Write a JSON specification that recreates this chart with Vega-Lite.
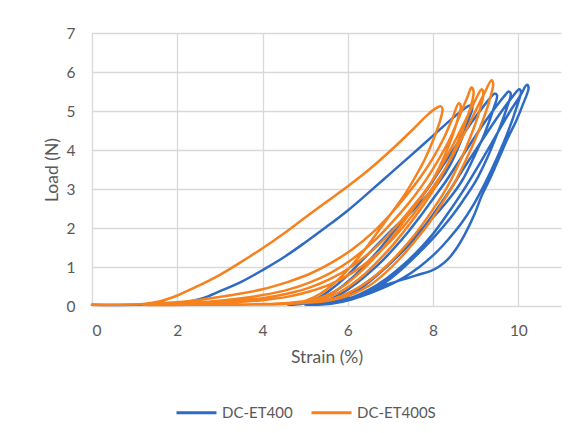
{
  "$schema": "https://vega.github.io/schema/vega-lite/v6.json",
  "autosize": {"type": "none"},
  "width": 469,
  "height": 273,
  "padding": {"left": 92, "top": 33, "right": 19, "bottom": 127},
  "background": "white",
  "config": {
    "font": "Lato",
    "view": {"stroke": null},
    "axis": {
      "labelColor": "#595959",
      "labelFontSize": 15.5,
      "titleColor": "#595959",
      "titleFontWeight": "normal",
      "titleFontSize": 17.5,
      "gridColor": "#D9D9D9",
      "gridWidth": 1.3,
      "ticks": false,
      "domain": false
    }
  },
  "data": {"values": [
    {"s":"DC-ET400","i":1,"x":0,"y":0.03},{"s":"DC-ET400","i":2,"x":1,"y":0.03},{"s":"DC-ET400","i":3,"x":1.8,"y":0.05},{"s":"DC-ET400","i":4,"x":2.2,"y":0.1},{"s":"DC-ET400","i":5,"x":2.6,"y":0.2},{"s":"DC-ET400","i":6,"x":3,"y":0.38},{"s":"DC-ET400","i":7,"x":3.5,"y":0.62},{"s":"DC-ET400","i":8,"x":4,"y":0.92},{"s":"DC-ET400","i":9,"x":4.5,"y":1.25},{"s":"DC-ET400","i":10,"x":5,"y":1.63},{"s":"DC-ET400","i":11,"x":5.5,"y":2.03},{"s":"DC-ET400","i":12,"x":6,"y":2.45},{"s":"DC-ET400","i":13,"x":6.5,"y":2.92},{"s":"DC-ET400","i":14,"x":7,"y":3.4},{"s":"DC-ET400","i":15,"x":7.5,"y":3.88},{"s":"DC-ET400","i":16,"x":8,"y":4.37},{"s":"DC-ET400","i":17,"x":8.4,"y":4.76},{"s":"DC-ET400","i":18,"x":8.7,"y":5.03},{"s":"DC-ET400","i":19,"x":8.86,"y":5.14},
    {"s":"DC-ET400","i":20,"x":8.92,"y":5.1},{"s":"DC-ET400","i":21,"x":8.84,"y":4.8},{"s":"DC-ET400","i":22,"x":8.64,"y":4.2},{"s":"DC-ET400","i":23,"x":8.4,"y":3.62},{"s":"DC-ET400","i":24,"x":8.12,"y":3.15},{"s":"DC-ET400","i":25,"x":7.85,"y":2.82},{"s":"DC-ET400","i":26,"x":7.5,"y":2.42},{"s":"DC-ET400","i":27,"x":7.1,"y":2.02},{"s":"DC-ET400","i":28,"x":6.7,"y":1.58},{"s":"DC-ET400","i":29,"x":6.3,"y":1.13},{"s":"DC-ET400","i":30,"x":5.95,"y":0.74},{"s":"DC-ET400","i":31,"x":5.6,"y":0.42},{"s":"DC-ET400","i":32,"x":5.3,"y":0.2},{"s":"DC-ET400","i":33,"x":5.0,"y":0.08},{"s":"DC-ET400","i":34,"x":4.6,"y":0.03},
    {"s":"DC-ET400","i":35,"x":4.9,"y":0.05},{"s":"DC-ET400","i":36,"x":5.2,"y":0.12},{"s":"DC-ET400","i":37,"x":5.5,"y":0.25},{"s":"DC-ET400","i":38,"x":5.8,"y":0.45},{"s":"DC-ET400","i":39,"x":6.1,"y":0.72},{"s":"DC-ET400","i":40,"x":6.4,"y":1.05},{"s":"DC-ET400","i":41,"x":6.7,"y":1.4},{"s":"DC-ET400","i":42,"x":7.0,"y":1.8},{"s":"DC-ET400","i":43,"x":7.3,"y":2.2},{"s":"DC-ET400","i":44,"x":7.6,"y":2.6},{"s":"DC-ET400","i":45,"x":7.9,"y":3.05},{"s":"DC-ET400","i":46,"x":8.2,"y":3.55},{"s":"DC-ET400","i":47,"x":8.5,"y":4.05},{"s":"DC-ET400","i":48,"x":8.8,"y":4.55},{"s":"DC-ET400","i":49,"x":9.1,"y":5.0},{"s":"DC-ET400","i":50,"x":9.35,"y":5.35},{"s":"DC-ET400","i":51,"x":9.45,"y":5.45},
    {"s":"DC-ET400","i":52,"x":9.5,"y":5.4},{"s":"DC-ET400","i":53,"x":9.4,"y":5.0},{"s":"DC-ET400","i":54,"x":9.2,"y":4.4},{"s":"DC-ET400","i":55,"x":8.95,"y":3.8},{"s":"DC-ET400","i":56,"x":8.7,"y":3.25},{"s":"DC-ET400","i":57,"x":8.45,"y":2.85},{"s":"DC-ET400","i":58,"x":8.15,"y":2.45},{"s":"DC-ET400","i":59,"x":7.8,"y":2.05},{"s":"DC-ET400","i":60,"x":7.45,"y":1.65},{"s":"DC-ET400","i":61,"x":7.1,"y":1.2},{"s":"DC-ET400","i":62,"x":6.7,"y":0.8},{"s":"DC-ET400","i":63,"x":6.3,"y":0.45},{"s":"DC-ET400","i":64,"x":5.9,"y":0.2},{"s":"DC-ET400","i":65,"x":5.5,"y":0.07},{"s":"DC-ET400","i":66,"x":5.0,"y":0.03},
    {"s":"DC-ET400","i":67,"x":5.3,"y":0.08},{"s":"DC-ET400","i":68,"x":5.6,"y":0.18},{"s":"DC-ET400","i":69,"x":5.9,"y":0.35},{"s":"DC-ET400","i":70,"x":6.2,"y":0.58},{"s":"DC-ET400","i":71,"x":6.5,"y":0.85},{"s":"DC-ET400","i":72,"x":6.8,"y":1.15},{"s":"DC-ET400","i":73,"x":7.1,"y":1.5},{"s":"DC-ET400","i":74,"x":7.4,"y":1.88},{"s":"DC-ET400","i":75,"x":7.7,"y":2.3},{"s":"DC-ET400","i":76,"x":8.0,"y":2.75},{"s":"DC-ET400","i":77,"x":8.3,"y":3.2},{"s":"DC-ET400","i":78,"x":8.6,"y":3.7},{"s":"DC-ET400","i":79,"x":8.9,"y":4.2},{"s":"DC-ET400","i":80,"x":9.2,"y":4.7},{"s":"DC-ET400","i":81,"x":9.5,"y":5.15},{"s":"DC-ET400","i":82,"x":9.7,"y":5.42},{"s":"DC-ET400","i":83,"x":9.77,"y":5.5},
    {"s":"DC-ET400","i":84,"x":9.82,"y":5.45},{"s":"DC-ET400","i":85,"x":9.72,"y":5.05},{"s":"DC-ET400","i":86,"x":9.5,"y":4.4},{"s":"DC-ET400","i":87,"x":9.25,"y":3.75},{"s":"DC-ET400","i":88,"x":9.0,"y":3.2},{"s":"DC-ET400","i":89,"x":8.7,"y":2.7},{"s":"DC-ET400","i":90,"x":8.4,"y":2.25},{"s":"DC-ET400","i":91,"x":8.05,"y":1.8},{"s":"DC-ET400","i":92,"x":7.7,"y":1.4},{"s":"DC-ET400","i":93,"x":7.3,"y":0.98},{"s":"DC-ET400","i":94,"x":6.9,"y":0.62},{"s":"DC-ET400","i":95,"x":6.5,"y":0.35},{"s":"DC-ET400","i":96,"x":6.1,"y":0.17},{"s":"DC-ET400","i":97,"x":5.6,"y":0.06},{"s":"DC-ET400","i":98,"x":5.1,"y":0.03},
    {"s":"DC-ET400","i":99,"x":5.5,"y":0.1},{"s":"DC-ET400","i":100,"x":5.9,"y":0.25},{"s":"DC-ET400","i":101,"x":6.3,"y":0.5},{"s":"DC-ET400","i":102,"x":6.7,"y":0.82},{"s":"DC-ET400","i":103,"x":7.1,"y":1.2},{"s":"DC-ET400","i":104,"x":7.5,"y":1.65},{"s":"DC-ET400","i":105,"x":7.8,"y":2.05},{"s":"DC-ET400","i":106,"x":8.1,"y":2.5},{"s":"DC-ET400","i":107,"x":8.4,"y":2.98},{"s":"DC-ET400","i":108,"x":8.7,"y":3.5},{"s":"DC-ET400","i":109,"x":9.0,"y":4.0},{"s":"DC-ET400","i":110,"x":9.3,"y":4.5},{"s":"DC-ET400","i":111,"x":9.6,"y":4.98},{"s":"DC-ET400","i":112,"x":9.85,"y":5.35},{"s":"DC-ET400","i":113,"x":10.02,"y":5.56},
    {"s":"DC-ET400","i":114,"x":10.06,"y":5.5},{"s":"DC-ET400","i":115,"x":9.96,"y":5.1},{"s":"DC-ET400","i":116,"x":9.75,"y":4.45},{"s":"DC-ET400","i":117,"x":9.5,"y":3.8},{"s":"DC-ET400","i":118,"x":9.22,"y":3.15},{"s":"DC-ET400","i":119,"x":8.95,"y":2.6},{"s":"DC-ET400","i":120,"x":8.65,"y":2.1},{"s":"DC-ET400","i":121,"x":8.35,"y":1.7},{"s":"DC-ET400","i":122,"x":8.05,"y":1.35},{"s":"DC-ET400","i":123,"x":7.7,"y":1.02},{"s":"DC-ET400","i":124,"x":7.3,"y":0.72},{"s":"DC-ET400","i":125,"x":6.8,"y":0.45},{"s":"DC-ET400","i":126,"x":6.3,"y":0.24},{"s":"DC-ET400","i":127,"x":5.8,"y":0.1},{"s":"DC-ET400","i":128,"x":5.3,"y":0.03},
    {"s":"DC-ET400","i":129,"x":5.7,"y":0.1},{"s":"DC-ET400","i":130,"x":6.1,"y":0.22},{"s":"DC-ET400","i":131,"x":6.5,"y":0.42},{"s":"DC-ET400","i":132,"x":6.9,"y":0.7},{"s":"DC-ET400","i":133,"x":7.3,"y":1.05},{"s":"DC-ET400","i":134,"x":7.7,"y":1.48},{"s":"DC-ET400","i":135,"x":8.0,"y":1.85},{"s":"DC-ET400","i":136,"x":8.3,"y":2.3},{"s":"DC-ET400","i":137,"x":8.6,"y":2.78},{"s":"DC-ET400","i":138,"x":8.9,"y":3.3},{"s":"DC-ET400","i":139,"x":9.2,"y":3.85},{"s":"DC-ET400","i":140,"x":9.5,"y":4.42},{"s":"DC-ET400","i":141,"x":9.8,"y":4.98},{"s":"DC-ET400","i":142,"x":10.05,"y":5.4},{"s":"DC-ET400","i":143,"x":10.2,"y":5.67},
    {"s":"DC-ET400","i":144,"x":10.24,"y":5.6},{"s":"DC-ET400","i":145,"x":10.1,"y":5.15},{"s":"DC-ET400","i":146,"x":9.95,"y":4.75},{"s":"DC-ET400","i":147,"x":9.75,"y":4.3},{"s":"DC-ET400","i":148,"x":9.55,"y":3.8},{"s":"DC-ET400","i":149,"x":9.35,"y":3.3},{"s":"DC-ET400","i":150,"x":9.15,"y":2.85},{"s":"DC-ET400","i":151,"x":8.95,"y":2.3},{"s":"DC-ET400","i":152,"x":8.75,"y":1.85},{"s":"DC-ET400","i":153,"x":8.55,"y":1.48},{"s":"DC-ET400","i":154,"x":8.35,"y":1.2},{"s":"DC-ET400","i":155,"x":8.15,"y":1.02},{"s":"DC-ET400","i":156,"x":7.95,"y":0.9},{"s":"DC-ET400","i":157,"x":7.65,"y":0.8},{"s":"DC-ET400","i":158,"x":7.35,"y":0.7},{"s":"DC-ET400","i":159,"x":7.0,"y":0.58},{"s":"DC-ET400","i":160,"x":6.7,"y":0.47},{"s":"DC-ET400","i":161,"x":6.4,"y":0.34},{"s":"DC-ET400","i":162,"x":6.1,"y":0.22},{"s":"DC-ET400","i":163,"x":5.7,"y":0.1},{"s":"DC-ET400","i":164,"x":5.3,"y":0.03},

    {"s":"DC-ET400S","i":1,"x":0,"y":0.03},{"s":"DC-ET400S","i":2,"x":0.6,"y":0.03},{"s":"DC-ET400S","i":3,"x":1.2,"y":0.05},{"s":"DC-ET400S","i":4,"x":1.6,"y":0.12},{"s":"DC-ET400S","i":5,"x":2,"y":0.27},{"s":"DC-ET400S","i":6,"x":2.5,"y":0.52},{"s":"DC-ET400S","i":7,"x":3,"y":0.8},{"s":"DC-ET400S","i":8,"x":3.5,"y":1.13},{"s":"DC-ET400S","i":9,"x":4,"y":1.48},{"s":"DC-ET400S","i":10,"x":4.5,"y":1.86},{"s":"DC-ET400S","i":11,"x":5,"y":2.27},{"s":"DC-ET400S","i":12,"x":5.5,"y":2.67},{"s":"DC-ET400S","i":13,"x":6,"y":3.07},{"s":"DC-ET400S","i":14,"x":6.5,"y":3.5},{"s":"DC-ET400S","i":15,"x":7,"y":3.98},{"s":"DC-ET400S","i":16,"x":7.5,"y":4.5},{"s":"DC-ET400S","i":17,"x":7.85,"y":4.88},{"s":"DC-ET400S","i":18,"x":8.05,"y":5.06},{"s":"DC-ET400S","i":19,"x":8.18,"y":5.12},
    {"s":"DC-ET400S","i":20,"x":8.22,"y":5.05},{"s":"DC-ET400S","i":21,"x":8.15,"y":4.7},{"s":"DC-ET400S","i":22,"x":8.0,"y":4.25},{"s":"DC-ET400S","i":23,"x":7.8,"y":3.75},{"s":"DC-ET400S","i":24,"x":7.55,"y":3.25},{"s":"DC-ET400S","i":25,"x":7.3,"y":2.8},{"s":"DC-ET400S","i":26,"x":7.0,"y":2.35},{"s":"DC-ET400S","i":27,"x":6.7,"y":1.9},{"s":"DC-ET400S","i":28,"x":6.4,"y":1.45},{"s":"DC-ET400S","i":29,"x":6.1,"y":1.05},{"s":"DC-ET400S","i":30,"x":5.8,"y":0.7},{"s":"DC-ET400S","i":31,"x":5.5,"y":0.42},{"s":"DC-ET400S","i":32,"x":5.2,"y":0.22},{"s":"DC-ET400S","i":33,"x":4.9,"y":0.1},{"s":"DC-ET400S","i":34,"x":4.5,"y":0.05},{"s":"DC-ET400S","i":35,"x":3.5,"y":0.035},{"s":"DC-ET400S","i":36,"x":2.3,"y":0.03},{"s":"DC-ET400S","i":37,"x":1.2,"y":0.03},
    {"s":"DC-ET400S","i":38,"x":2.3,"y":0.13},{"s":"DC-ET400S","i":39,"x":3.1,"y":0.25},{"s":"DC-ET400S","i":40,"x":4.0,"y":0.43},{"s":"DC-ET400S","i":41,"x":4.6,"y":0.62},{"s":"DC-ET400S","i":42,"x":5.1,"y":0.82},{"s":"DC-ET400S","i":43,"x":5.6,"y":1.1},{"s":"DC-ET400S","i":44,"x":6.1,"y":1.45},{"s":"DC-ET400S","i":45,"x":6.6,"y":1.9},{"s":"DC-ET400S","i":46,"x":7.0,"y":2.35},{"s":"DC-ET400S","i":47,"x":7.35,"y":2.8},{"s":"DC-ET400S","i":48,"x":7.7,"y":3.3},{"s":"DC-ET400S","i":49,"x":8.0,"y":3.8},{"s":"DC-ET400S","i":50,"x":8.25,"y":4.3},{"s":"DC-ET400S","i":51,"x":8.45,"y":4.8},{"s":"DC-ET400S","i":52,"x":8.6,"y":5.2},
    {"s":"DC-ET400S","i":53,"x":8.65,"y":5.12},{"s":"DC-ET400S","i":54,"x":8.58,"y":4.8},{"s":"DC-ET400S","i":55,"x":8.45,"y":4.35},{"s":"DC-ET400S","i":56,"x":8.27,"y":3.85},{"s":"DC-ET400S","i":57,"x":8.05,"y":3.35},{"s":"DC-ET400S","i":58,"x":7.8,"y":2.9},{"s":"DC-ET400S","i":59,"x":7.5,"y":2.45},{"s":"DC-ET400S","i":60,"x":7.2,"y":2.0},{"s":"DC-ET400S","i":61,"x":6.9,"y":1.58},{"s":"DC-ET400S","i":62,"x":6.55,"y":1.15},{"s":"DC-ET400S","i":63,"x":6.2,"y":0.78},{"s":"DC-ET400S","i":64,"x":5.85,"y":0.48},{"s":"DC-ET400S","i":65,"x":5.5,"y":0.27},{"s":"DC-ET400S","i":66,"x":5.1,"y":0.14},{"s":"DC-ET400S","i":67,"x":4.6,"y":0.08},{"s":"DC-ET400S","i":68,"x":4.0,"y":0.05},{"s":"DC-ET400S","i":69,"x":3.0,"y":0.035},{"s":"DC-ET400S","i":70,"x":2.0,"y":0.03},{"s":"DC-ET400S","i":71,"x":1.2,"y":0.03},
    {"s":"DC-ET400S","i":72,"x":2.3,"y":0.08},{"s":"DC-ET400S","i":73,"x":3.1,"y":0.15},{"s":"DC-ET400S","i":74,"x":4.0,"y":0.28},{"s":"DC-ET400S","i":75,"x":4.6,"y":0.42},{"s":"DC-ET400S","i":76,"x":5.1,"y":0.6},{"s":"DC-ET400S","i":77,"x":5.6,"y":0.85},{"s":"DC-ET400S","i":78,"x":6.1,"y":1.2},{"s":"DC-ET400S","i":79,"x":6.6,"y":1.65},{"s":"DC-ET400S","i":80,"x":7.0,"y":2.1},{"s":"DC-ET400S","i":81,"x":7.4,"y":2.6},{"s":"DC-ET400S","i":82,"x":7.75,"y":3.1},{"s":"DC-ET400S","i":83,"x":8.1,"y":3.7},{"s":"DC-ET400S","i":84,"x":8.4,"y":4.3},{"s":"DC-ET400S","i":85,"x":8.65,"y":4.95},{"s":"DC-ET400S","i":86,"x":8.82,"y":5.4},{"s":"DC-ET400S","i":87,"x":8.9,"y":5.6},
    {"s":"DC-ET400S","i":88,"x":8.95,"y":5.5},{"s":"DC-ET400S","i":89,"x":8.88,"y":5.1},{"s":"DC-ET400S","i":90,"x":8.72,"y":4.6},{"s":"DC-ET400S","i":91,"x":8.52,"y":4.05},{"s":"DC-ET400S","i":92,"x":8.3,"y":3.55},{"s":"DC-ET400S","i":93,"x":8.05,"y":3.05},{"s":"DC-ET400S","i":94,"x":7.75,"y":2.55},{"s":"DC-ET400S","i":95,"x":7.45,"y":2.1},{"s":"DC-ET400S","i":96,"x":7.1,"y":1.62},{"s":"DC-ET400S","i":97,"x":6.75,"y":1.2},{"s":"DC-ET400S","i":98,"x":6.4,"y":0.82},{"s":"DC-ET400S","i":99,"x":6.05,"y":0.52},{"s":"DC-ET400S","i":100,"x":5.7,"y":0.3},{"s":"DC-ET400S","i":101,"x":5.3,"y":0.16},{"s":"DC-ET400S","i":102,"x":4.8,"y":0.09},{"s":"DC-ET400S","i":103,"x":4.0,"y":0.05},{"s":"DC-ET400S","i":104,"x":3.0,"y":0.035},{"s":"DC-ET400S","i":105,"x":2.0,"y":0.03},{"s":"DC-ET400S","i":106,"x":1.2,"y":0.03},
    {"s":"DC-ET400S","i":107,"x":2.3,"y":0.06},{"s":"DC-ET400S","i":108,"x":3.1,"y":0.11},{"s":"DC-ET400S","i":109,"x":4.0,"y":0.2},{"s":"DC-ET400S","i":110,"x":4.6,"y":0.32},{"s":"DC-ET400S","i":111,"x":5.1,"y":0.47},{"s":"DC-ET400S","i":112,"x":5.6,"y":0.7},{"s":"DC-ET400S","i":113,"x":6.1,"y":1.02},{"s":"DC-ET400S","i":114,"x":6.6,"y":1.45},{"s":"DC-ET400S","i":115,"x":7.0,"y":1.88},{"s":"DC-ET400S","i":116,"x":7.45,"y":2.45},{"s":"DC-ET400S","i":117,"x":7.85,"y":3.0},{"s":"DC-ET400S","i":118,"x":8.2,"y":3.6},{"s":"DC-ET400S","i":119,"x":8.5,"y":4.2},{"s":"DC-ET400S","i":120,"x":8.8,"y":4.85},{"s":"DC-ET400S","i":121,"x":9.0,"y":5.3},{"s":"DC-ET400S","i":122,"x":9.14,"y":5.56},
    {"s":"DC-ET400S","i":123,"x":9.18,"y":5.45},{"s":"DC-ET400S","i":124,"x":9.1,"y":5.05},{"s":"DC-ET400S","i":125,"x":8.95,"y":4.55},{"s":"DC-ET400S","i":126,"x":8.75,"y":4.0},{"s":"DC-ET400S","i":127,"x":8.52,"y":3.45},{"s":"DC-ET400S","i":128,"x":8.25,"y":2.9},{"s":"DC-ET400S","i":129,"x":7.95,"y":2.4},{"s":"DC-ET400S","i":130,"x":7.62,"y":1.9},{"s":"DC-ET400S","i":131,"x":7.28,"y":1.45},{"s":"DC-ET400S","i":132,"x":6.9,"y":1.02},{"s":"DC-ET400S","i":133,"x":6.5,"y":0.65},{"s":"DC-ET400S","i":134,"x":6.1,"y":0.38},{"s":"DC-ET400S","i":135,"x":5.7,"y":0.2},{"s":"DC-ET400S","i":136,"x":5.2,"y":0.1},{"s":"DC-ET400S","i":137,"x":4.5,"y":0.05},{"s":"DC-ET400S","i":138,"x":3.5,"y":0.035},{"s":"DC-ET400S","i":139,"x":2.2,"y":0.03},{"s":"DC-ET400S","i":140,"x":1.2,"y":0.03},
    {"s":"DC-ET400S","i":141,"x":2.3,"y":0.05},{"s":"DC-ET400S","i":142,"x":3.1,"y":0.08},{"s":"DC-ET400S","i":143,"x":4.0,"y":0.15},{"s":"DC-ET400S","i":144,"x":4.6,"y":0.24},{"s":"DC-ET400S","i":145,"x":5.1,"y":0.37},{"s":"DC-ET400S","i":146,"x":5.6,"y":0.56},{"s":"DC-ET400S","i":147,"x":6.1,"y":0.85},{"s":"DC-ET400S","i":148,"x":6.6,"y":1.25},{"s":"DC-ET400S","i":149,"x":7.05,"y":1.72},{"s":"DC-ET400S","i":150,"x":7.5,"y":2.3},{"s":"DC-ET400S","i":151,"x":7.9,"y":2.9},{"s":"DC-ET400S","i":152,"x":8.3,"y":3.55},{"s":"DC-ET400S","i":153,"x":8.65,"y":4.25},{"s":"DC-ET400S","i":154,"x":8.95,"y":4.9},{"s":"DC-ET400S","i":155,"x":9.2,"y":5.45},{"s":"DC-ET400S","i":156,"x":9.37,"y":5.79},
    {"s":"DC-ET400S","i":157,"x":9.41,"y":5.7},{"s":"DC-ET400S","i":158,"x":9.33,"y":5.3},{"s":"DC-ET400S","i":159,"x":9.18,"y":4.8},{"s":"DC-ET400S","i":160,"x":8.98,"y":4.25},{"s":"DC-ET400S","i":161,"x":8.75,"y":3.7},{"s":"DC-ET400S","i":162,"x":8.5,"y":3.15},{"s":"DC-ET400S","i":163,"x":8.22,"y":2.65},{"s":"DC-ET400S","i":164,"x":7.92,"y":2.15},{"s":"DC-ET400S","i":165,"x":7.6,"y":1.7},{"s":"DC-ET400S","i":166,"x":7.25,"y":1.25},{"s":"DC-ET400S","i":167,"x":6.88,"y":0.85},{"s":"DC-ET400S","i":168,"x":6.5,"y":0.52},{"s":"DC-ET400S","i":169,"x":6.1,"y":0.3},{"s":"DC-ET400S","i":170,"x":5.6,"y":0.15},{"s":"DC-ET400S","i":171,"x":5.0,"y":0.08},{"s":"DC-ET400S","i":172,"x":4.2,"y":0.05}
  ]},
  "mark": {"type": "line", "interpolate": "catmull-rom", "strokeWidth": 2.5, "strokeJoin": "round", "strokeCap": "round"},
  "encoding": {
    "x": {"field": "x", "type": "quantitative", "title": "Strain (%)",
      "scale": {"domain": [0, 11], "nice": false, "zero": false},
      "axis": {"values": [0, 2, 4, 6, 8, 10], "grid": true, "labelPadding": 17, "titlePadding": 10}},
    "y": {"field": "y", "type": "quantitative", "title": "Load (N)",
      "scale": {"domain": [0, 7], "nice": false},
      "axis": {"values": [0, 1, 2, 3, 4, 5, 6, 7], "grid": true, "labelPadding": 17, "titlePadding": 5}},
    "order": {"field": "i", "type": "quantitative"},
    "color": {"field": "s", "type": "nominal",
      "scale": {"domain": ["DC-ET400", "DC-ET400S"], "range": ["#2D6BC4", "#F5821F"]},
      "legend": {"title": null, "orient": "none", "legendX": 83, "legendY": 358, "direction": "horizontal",
        "symbolType": "stroke", "symbolSize": 1600, "symbolStrokeWidth": 3,
        "labelFontSize": 15, "labelColor": "#595959", "columnPadding": 12, "labelOffset": 4}}
  }
}
